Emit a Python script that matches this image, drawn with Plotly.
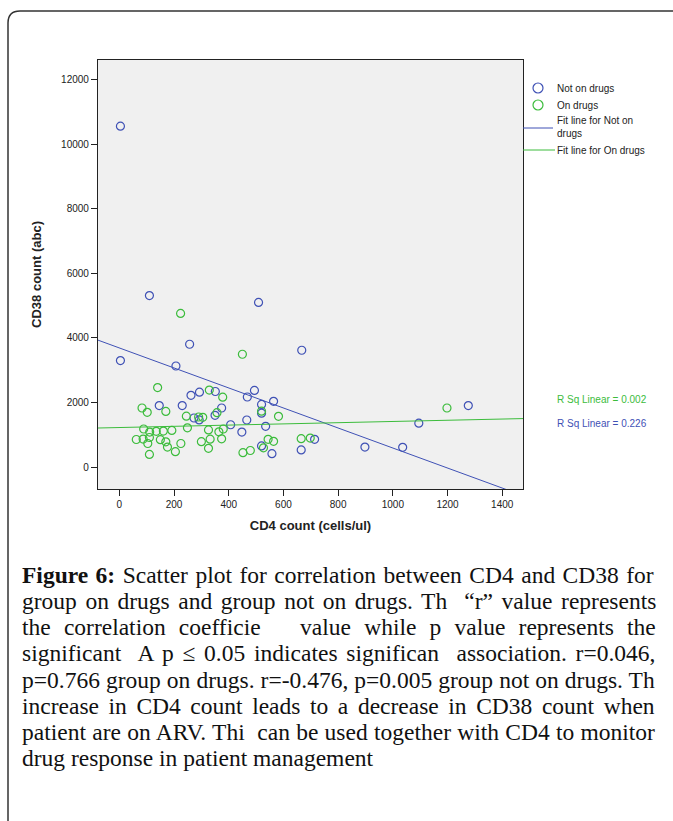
import numpy as np
import plotly.graph_objects as go

# ---------------- data ----------------
not_on_cd4 = [4, 110, 509, 4, 207, 257, 667, 262, 293, 351, 494, 468, 564, 520, 520,
              146, 230, 273, 292, 350, 374, 407, 466, 448, 535, 520, 558, 665, 714,
              1276, 1095, 898, 1036]
not_on_cd38 = [10560, 5313, 5100, 3300, 3131, 3804, 3618, 2223, 2320, 2340, 2375, 2170,
               2037, 1940, 1670, 1903, 1903, 1519, 1460, 1603, 1829, 1310, 1457, 1085,
               1262, 655, 415, 530, 859, 1903, 1360, 620, 611]

on_cd4 = [224, 450, 140, 329, 378, 83, 102, 170, 245, 290, 305, 357, 520, 582, 89, 111,
          135, 161, 192, 249, 326, 364, 380, 62, 87, 110, 104, 150, 170, 176, 225, 205,
          110, 300, 332, 374, 326, 452, 479, 527, 544, 564, 665, 698, 1198]
on_cd38 = [4760, 3494, 2461, 2385, 2165, 1830, 1696, 1722, 1576, 1550, 1540, 1685, 1730,
           1572, 1178, 1085, 1107, 1116, 1135, 1215, 1150, 1090, 1178, 854, 868, 916, 730,
           849, 781, 620, 730, 476, 390, 787, 865, 874, 580, 446, 513, 595, 859, 797, 880,
           899, 1829]

# linear fit lines (intercept, slope) as drawn in the reference
fit_not_on = (3690, -3.10)
fit_on = (1224, 0.188)
rsq_labels = ["R Sq Linear = 0.002", "R Sq Linear = 0.226"]
legend_labels = ["Not on drugs", "On drugs", "Fit line for Not on<br>drugs", "Fit line for On drugs"]

x_range = [-78, 1476]
y_range = [-680, 12610]
x_ticks = [0, 200, 400, 600, 800, 1000, 1200, 1400]
y_ticks = [0, 2000, 4000, 6000, 8000, 10000, 12000]

caption_lines = [
    "<b>Figure 6:</b> Scatter plot for correlation between CD4 and CD38 for",
    "group on drugs and group not on drugs. Th\u00a0 \u201cr\u201d value represents",
    "the correlation coefficie\u00a0\u00a0 value while p value represents the",
    "significant\u00a0 A p \u2264 0.05 indicates significan\u00a0 association. r=0.046,",
    "p=0.766 group on drugs. r=-0.476, p=0.005 group not on drugs. Th",
    "increase in CD4 count leads to a decrease in CD38 count when",
    "patient are on ARV. Thi\u00a0 can be used together with CD4 to monitor",
    "drug response in patient management",
]
# extra word spacing (px) to imitate the justified paragraph
caption_word_spacing = [1.6, 2.7, 7.3, 2.9, 0.2, 3.7, 0.4, 0]

# ---------------- styling ----------------
W, H = 673, 821
PX0, PX1, PY0, PY1 = 98, 523, 60, 489
BLUE = "#3f51b5"
GREEN = "#3cbc3c"
SANS = "Liberation Sans, Arial, sans-serif"
SERIF = "Liberation Serif, Times New Roman, serif"


def pxx(p):
    return (p - PX0) / (PX1 - PX0)


def pxy(p):
    return (PY1 - p) / (PY1 - PY0)


fig = go.Figure()

fig.add_trace(go.Scatter(x=not_on_cd4, y=not_on_cd38, mode="markers", name=legend_labels[0],
                         showlegend=False,
                         marker=dict(symbol="circle-open", size=8, color=BLUE, line=dict(width=1.2))))
fig.add_trace(go.Scatter(x=on_cd4, y=on_cd38, mode="markers", name=legend_labels[1],
                         showlegend=False,
                         marker=dict(symbol="circle-open", size=8, color=GREEN, line=dict(width=1.2))))

xs = np.linspace(x_range[0], x_range[1], 50)
fig.add_trace(go.Scatter(x=xs, y=fit_not_on[0] + fit_not_on[1] * xs, mode="lines",
                         name="Fit line for Not on drugs",
                         showlegend=False, line=dict(color=BLUE, width=1)))
fig.add_trace(go.Scatter(x=xs, y=fit_on[0] + fit_on[1] * xs, mode="lines",
                         name="Fit line for On drugs",
                         showlegend=False, line=dict(color=GREEN, width=1)))

axis_common = dict(showline=True, linecolor="#222", linewidth=1.2, mirror=True,
                   ticks="outside", ticklen=6, tickcolor="#222", tickwidth=1,
                   showgrid=False, zeroline=False,
                   tickfont=dict(family=SANS, size=10, color="#222"))

fig.update_xaxes(range=x_range, tickvals=x_ticks, ticktext=[str(v) for v in x_ticks],
                 title=dict(text="<b>CD4 count (cells/ul)</b>", font=dict(family=SANS, size=13, color="#222"),
                            standoff=11),
                 **axis_common)
fig.update_yaxes(range=y_range, tickvals=y_ticks, ticktext=[str(v) for v in y_ticks],
                 title=dict(text="<b>CD38 count (abc)</b>", font=dict(family=SANS, size=13, color="#222"),
                            standoff=16),
                 **axis_common)

annotations = []
shapes = []


def label(x, y, text, color, size=10, family=SANS):
    annotations.append(dict(x=pxx(x), y=pxy(y), xref="paper", yref="paper", xanchor="left",
                            yanchor="middle", align="left", showarrow=False, text=text,
                            font=dict(family=family, size=size, color=color)))


label(555, 399, rsq_labels[0], GREEN)
label(555, 423, rsq_labels[1], BLUE)

# custom legend (SPSS style)
leg_text = "#222"
for (cy, col) in [(88, BLUE), (105, GREEN)]:
    shapes.append(dict(type="circle", xref="paper", yref="paper",
                       x0=pxx(533), x1=pxx(543), y0=pxy(cy + 5), y1=pxy(cy - 5),
                       line=dict(color=col, width=1.2)))
label(555, 88, legend_labels[0], leg_text)
label(555, 105, legend_labels[1], leg_text)
shapes.append(dict(type="line", xref="paper", yref="paper", x0=pxx(523), x1=pxx(553),
                   y0=pxy(128), y1=pxy(128), line=dict(color=BLUE, width=1)))
label(555, 127.5, legend_labels[2], leg_text)
shapes.append(dict(type="line", xref="paper", yref="paper", x0=pxx(523), x1=pxx(555),
                   y0=pxy(150), y1=pxy(150), line=dict(color=GREEN, width=1)))
label(555, 150, legend_labels[3], leg_text)

cap_y = [575, 601, 627, 653, 680, 706, 732, 758]
for txt, yy, ws in zip(caption_lines, cap_y, caption_word_spacing):
    styled = f'<span style="word-spacing:{ws}px">{txt}</span>' if ws else txt
    label(20, yy, styled, "#111", size=23.5, family=SERIF)

# outer rounded border (top-left corner visible)
bx, by, r = 8, 11, 12
path = (f"M {pxx(W + 5)},{pxy(by)} L {pxx(bx + r)},{pxy(by)} "
        f"Q {pxx(bx)},{pxy(by)} {pxx(bx)},{pxy(by + r)} L {pxx(bx)},{pxy(H + 5)}")
shapes.append(dict(type="path", path=path, xref="paper", yref="paper",
                   line=dict(color="#333", width=1.5)))

fig.update_layout(
    width=W, height=H, autosize=False,
    margin=dict(l=PX0, r=W - PX1, t=PY0, b=H - PY1),
    paper_bgcolor="white", plot_bgcolor="#f0f0f0",
    annotations=annotations,
    shapes=shapes,
    showlegend=False,
)

fig.write_html("out.html")
